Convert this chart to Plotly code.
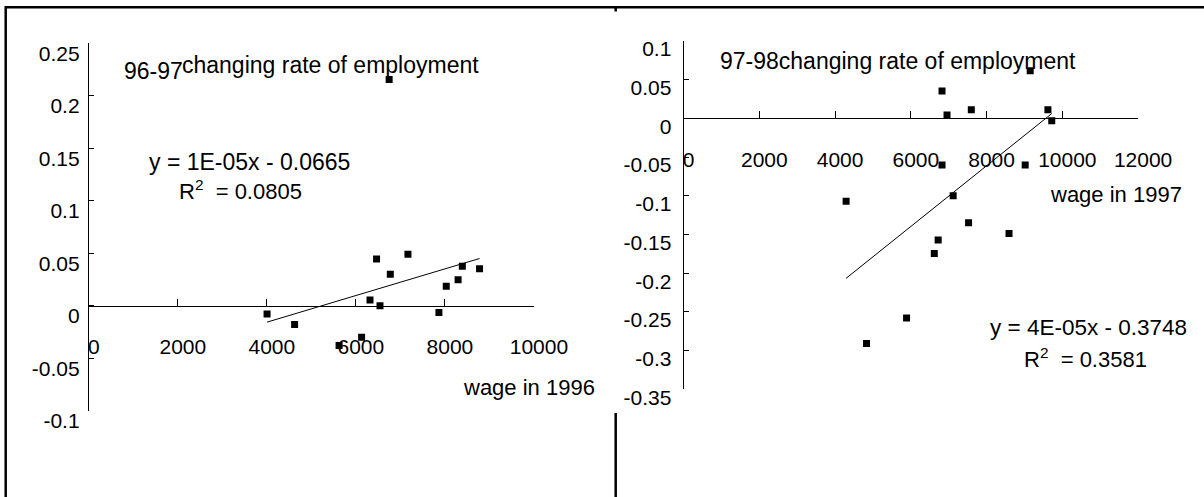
import numpy as np
import plotly.graph_objects as go

# ---------------- data ----------------
wage_1996 = [4005, 4624, 5623, 6129, 6318, 6542, 6465, 6774, 6748, 7170, 7866, 8031, 8297, 8392, 8779]
rate_96_97 = [-0.0079, -0.018, -0.038, -0.030, 0.0054, 0.0, 0.0445, 0.030, 0.2155, 0.049, -0.0064, 0.0185, 0.0248, 0.0375, 0.0353]

wage_1997 = [6823, 6955, 7596, 9151, 9619, 9720, 6823, 9019, 4291, 7117, 7524, 6721, 6619, 8592, 5887, 4830]
rate_97_98 = [0.0353, 0.0043, 0.0112, 0.0616, 0.0112, -0.003, -0.0603, -0.0603, -0.1072, -0.0999,
              -0.1348, -0.1572, -0.1744, -0.1486, -0.258, -0.2907]

# linear trendline coefficients as drawn in the chart (slope, intercept)
trend_96_97 = [1.27e-05, -0.0665]
trend_97_98 = [3.92e-05, -0.3748]

left_yticks = [0.25, 0.2, 0.15, 0.1, 0.05, 0, -0.05, -0.1]
left_yticktext = ["0.25", "0.2", "0.15", "0.1", "0.05", "0", "-0.05", "-0.1"]
left_xticks = [0, 2000, 4000, 6000, 8000, 10000]

right_yticks = [0.1, 0.05, 0, -0.05, -0.1, -0.15, -0.2, -0.25, -0.3, -0.35]
right_yticktext = ["0.1", "0.05", "0", "-0.05", "-0.1", "-0.15", "-0.2", "-0.25", "-0.3", "-0.35"]
right_xticks = [0, 2000, 4000, 6000, 8000, 10000, 12000]

left_title_prefix = "96-97"
left_title = "changing rate of employment"
right_title = "97-98changing rate of employment"
left_eq = "y = 1E-05x - 0.0665"
left_r2 = "R<sup>2</sup>  = 0.0805"
right_eq = "y = 4E-05x - 0.3748"
right_r2 = "R<sup>2</sup>  = 0.3581"
left_xtitle = "wage in 1996"
right_xtitle = "wage in 1997"

# ---------------- layout helpers ----------------
W, H = 1204, 497
def fx(px):
    return px / W
def fy(py):
    return 1 - py / H

FONT = "Liberation Sans, Arial, sans-serif"

left_xr = [0, 10000]
left_yr = [-0.1, 0.25]
right_xr = [0, 12000]
right_yr = [-0.35, 0.1]

left_xdom = [fx(88.8), fx(533.9)]
left_ydom = [fy(410.7), fy(43.3)]
right_xdom = [fx(683.6), fx(1138.1)]
right_ydom = [fy(389.3), fy(41.0)]

def cross_pos(ydom, yr):
    frac = (0 - yr[0]) / (yr[1] - yr[0])
    return ydom[0] + frac * (ydom[1] - ydom[0])

fig = go.Figure()

# scatter points
fig.add_trace(go.Scatter(x=wage_1996, y=rate_96_97, mode="markers",
                         marker=dict(symbol="square", size=7, color="black", line=dict(width=0)),
                         xaxis="x", yaxis="y", showlegend=False))
fig.add_trace(go.Scatter(x=wage_1997, y=rate_97_98, mode="markers",
                         marker=dict(symbol="square", size=7, color="black", line=dict(width=0)),
                         xaxis="x2", yaxis="y2", showlegend=False))

# linear trendlines spanning the data range
for xs, (k, b), xa, ya in [(wage_1996, trend_96_97, "x", "y"), (wage_1997, trend_97_98, "x2", "y2")]:
    xl = np.array([min(xs), max(xs)], dtype=float)
    fig.add_trace(go.Scatter(x=xl, y=k * xl + b, mode="lines",
                             line=dict(color="black", width=1),
                             xaxis=xa, yaxis=ya, showlegend=False, hoverinfo="skip"))

tickfont = dict(family=FONT, size=21, color="black")

def xaxis_cfg(dom, rng, ticks, pos):
    return dict(domain=dom, range=rng, anchor="free", position=pos,
                tickvals=ticks, ticktext=[str(t) for t in ticks],
                showline=True, linecolor="black", linewidth=1,
                ticks="inside", ticklen=7, tickcolor="black", tickwidth=1,
                showgrid=False, zeroline=False, tickfont=tickfont, automargin=False,
                ticklabelstandoff=22, ticklabelshift=5, fixedrange=True)

def yaxis_cfg(dom, rng, ticks, text, anchor, shift, standoff):
    return dict(domain=dom, range=rng, anchor=anchor,
                tickvals=ticks, ticktext=text,
                showline=True, linecolor="black", linewidth=1,
                ticks="inside", ticklen=5, tickcolor="black", tickwidth=1,
                showgrid=False, zeroline=False, tickfont=tickfont, automargin=False,
                ticklabelshift=shift, ticklabelstandoff=standoff, fixedrange=True)

fig.update_layout(
    template="none",
    width=W, height=H, autosize=False,
    margin=dict(l=0, r=0, t=0, b=0, pad=0, autoexpand=False),
    paper_bgcolor="white", plot_bgcolor="rgba(0,0,0,0)",
    font=dict(family=FONT, color="black"),
    xaxis=xaxis_cfg(left_xdom, left_xr, left_xticks, cross_pos(left_ydom, left_yr)),
    yaxis=yaxis_cfg(left_ydom, left_yr, left_yticks, left_yticktext, "x", 10, 4),
    xaxis2=xaxis_cfg(right_xdom, right_xr, right_xticks, cross_pos(right_ydom, right_yr)),
    yaxis2=yaxis_cfg(right_ydom, right_yr, right_yticks, right_yticktext, "x2", 8, 7),
)

def ann(text, x, y, size, xanchor="left"):
    return dict(text=text, x=fx(x), y=fy(y), xref="paper", yref="paper",
                xanchor=xanchor, yanchor="middle", showarrow=False,
                font=dict(family=FONT, size=size, color="black"))

fig.update_layout(annotations=[
    ann(left_title_prefix, 121.7, 71, 23),
    ann(left_title, 180, 65, 23),
    ann(right_title, 718.3, 61, 23),
    ann(left_eq, 146.6, 162, 23),
    ann(left_r2, 176.8, 190, 22),
    ann(right_eq, 988.3, 327, 22.5),
    ann(right_r2, 1021.7, 358, 22),
    ann(left_xtitle, 597, 387, 22, xanchor="right"),
    ann(right_xtitle, 1183.6, 194, 22, xanchor="right"),
])

# frame lines of the picture
line = dict(color="black", width=2.5)
fig.update_layout(shapes=[
    dict(type="line", xref="paper", yref="paper", x0=fx(5), x1=fx(1204), y0=fy(7.3), y1=fy(7.3), line=line),
    dict(type="line", xref="paper", yref="paper", x0=fx(5.7), x1=fx(5.7), y0=fy(6), y1=fy(497), line=line),
    dict(type="line", xref="paper", yref="paper", x0=fx(615.7), x1=fx(615.7), y0=fy(413), y1=fy(497), line=line),
    dict(type="line", xref="paper", yref="paper", x0=fx(615.7), x1=fx(615.7), y0=fy(7), y1=fy(11.5), line=line),
])

fig.write_html("out.html", config={"displayModeBar": False},
               post_script="document.body.style.margin='0px';document.body.style.overflow='hidden';")
